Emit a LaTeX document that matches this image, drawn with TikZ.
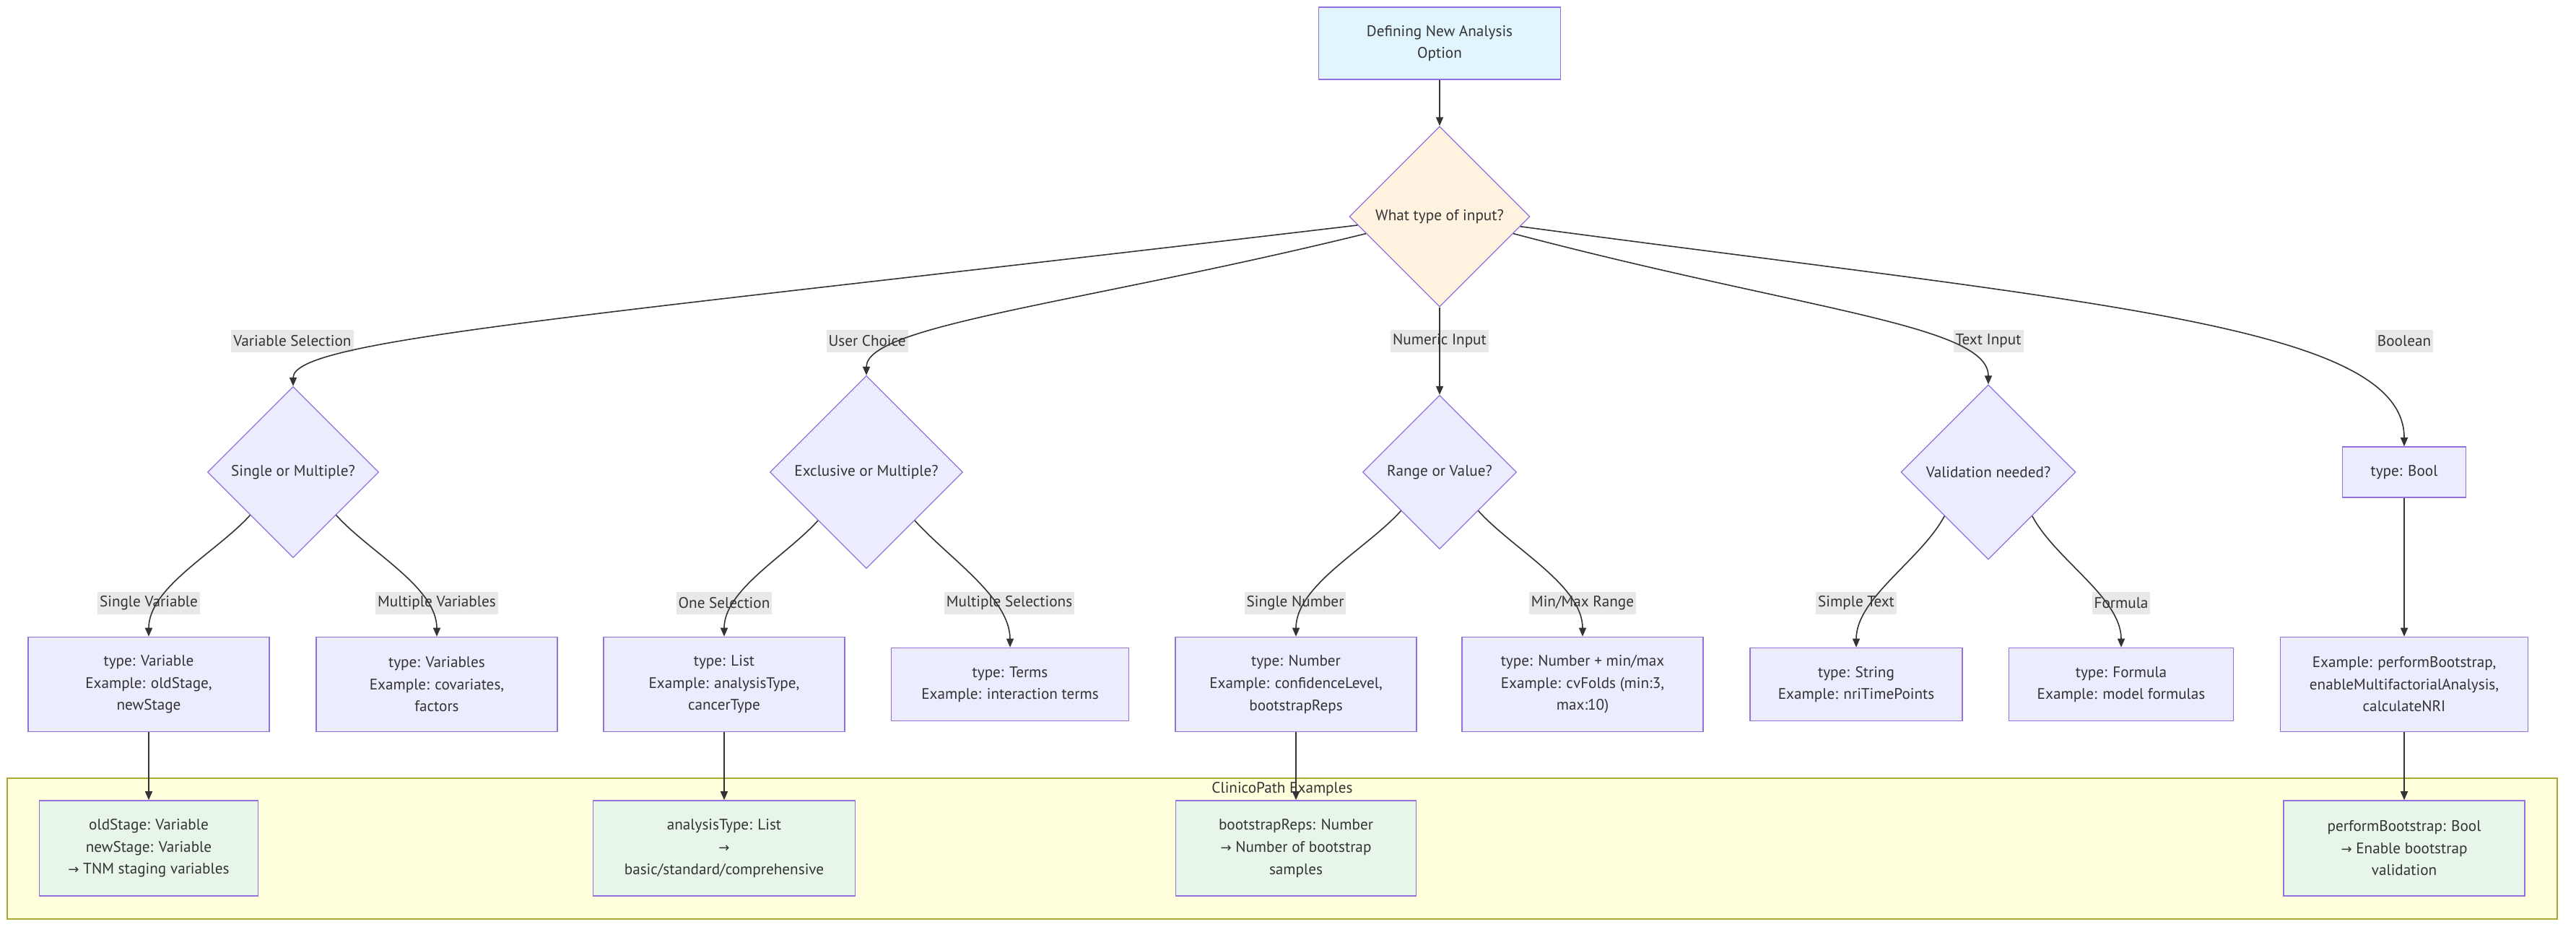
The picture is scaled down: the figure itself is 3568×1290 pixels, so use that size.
\documentclass[tikz,border=0pt]{standalone}
\usepackage{fontspec}
\setmainfont{PT Sans}
\newfontfamily\arrowfont{DejaVu Sans}
\usetikzlibrary{arrows.meta,shapes.geometric}

\definecolor{nodefill}{HTML}{ECECFF}
\definecolor{nodeline}{HTML}{9370DB}
\definecolor{startfill}{HTML}{E1F5FE}
\definecolor{askfill}{HTML}{FFF3E0}
\definecolor{examplefill}{HTML}{E8F5E9}
\definecolor{groupfill}{HTML}{FFFFDE}
\definecolor{groupline}{HTML}{AAAA33}
\definecolor{labelfill}{HTML}{E8E8E8}
\definecolor{ink}{HTML}{333333}

\newcommand{\goes}{{\arrowfont\small →}}

\begin{document}
\begin{tikzpicture}[x=0.5pt,y=0.5pt,
  font=\fontsize{10.6}{15.3}\selectfont, text=ink,
  box/.style={draw=nodeline, fill=nodefill, line width=0.8pt, align=center, inner sep=2pt, minimum width=167pt, minimum height=65.5pt},
  ask/.style={diamond, aspect=1, draw=nodeline, fill=nodefill, line width=0.6pt, align=center, inner sep=0pt},
  example/.style={box, fill=examplefill, minimum height=66pt},
  tag/.style={fill=labelfill, inner xsep=1.5pt, inner ysep=0pt, minimum height=15.5pt},
  flow/.style={draw=ink, line width=0.8pt, -{Triangle[length=6pt,width=5pt]}},
]
\useasboundingbox (0,0) rectangle (3568,-1290);

% group box
\node[draw=groupline, fill=groupfill, line width=0.8pt, minimum width=1766pt, minimum height=97.5pt, inner sep=0pt] (group) at (1776,-1175.5) {};
\node (grouptitle) at (1776,-1093) {ClinicoPath Examples};

% start and first question
\node[box, fill=startfill, minimum width=167.5pt, minimum height=50pt] (start) at (1994,-60) {Defining New Analysis\\Option};
\node[ask, fill=askfill, minimum size=125pt] (kind) at (1994,-300) {What type of input?};

% second row of questions
\node[ask, minimum size=118.5pt] (varq) at (406,-654) {Single or Multiple?};
\node[ask, minimum size=133.5pt] (choiceq) at (1200,-654) {Exclusive or Multiple?};
\node[ask, minimum size=106.5pt] (numq) at (1994,-654) {Range or Value?};
\node[ask, minimum size=121pt] (textq) at (2754,-654) {Validation needed?};
\node[box, minimum width=85.5pt, minimum height=35pt] (boolt) at (3330,-654) {type: Bool};

% edge labels
\node[tag] (tVarSel) at (405,-472) {Variable Selection};
\node[tag] (tUser) at (1201,-472) {User Choice};
\node[tag] (tNum) at (1994,-472) {Numeric Input};
\node[tag] (tText) at (2754,-472) {Text Input};
\node[tag] (tBool) at (3330,-472) {Boolean};
\node[tag] (tSingleVar) at (206,-835) {Single Variable};
\node[tag] (tMultiVar) at (605,-835) {Multiple Variables};
\node[tag] (tOneSel) at (1003,-835) {One Selection};
\node[tag] (tMultiSel) at (1398,-835) {Multiple Selections};
\node[tag] (tSingleNum) at (1794,-835) {Single Number};
\node[tag] (tMinMax) at (2192,-835) {Min/Max Range};
\node[tag] (tSimple) at (2571,-835) {Simple Text};
\node[tag] (tFormula) at (2938,-835) {Formula};

% option types
\node[box] (var) at (206,-948) {type: Variable\\Example: oldStage,\\newStage};
\node[box] (vars) at (605,-948) {type: Variables\\Example: covariates,\\factors};
\node[box] (list) at (1003,-948) {type: List\\Example: analysisType,\\cancerType};
\node[box, minimum width=164.5pt, minimum height=50.5pt] (terms) at (1399,-948) {type: Terms\\Example: interaction terms};
\node[box] (number) at (1795,-948) {type: Number\\Example: confidenceLevel,\\bootstrapReps};
\node[box] (range) at (2192,-948) {type: Number + min/max\\Example: cvFolds (min:3,\\max:10)};
\node[box, minimum width=147pt, minimum height=50.5pt] (string) at (2571,-948) {type: String\\Example: nriTimePoints};
\node[box, minimum width=155.5pt, minimum height=50.5pt] (formula) at (2938,-948) {type: Formula\\Example: model formulas};
\node[box, minimum width=171.5pt] (boolex) at (3330,-948) {Example: performBootstrap,\\enableMultifactorialAnalysis,\\calculateNRI};

% examples
\node[example, minimum width=151.5pt] (exVar) at (206,-1175) {oldStage: Variable\\newStage: Variable\\\goes{} TNM staging variables};
\node[example, minimum width=181.5pt] (exList) at (1003,-1175) {analysisType: List\\\goes\\basic/standard/comprehensive};
\node[example, minimum width=166.5pt] (exNum) at (1795,-1175) {bootstrapReps: Number\\\goes{} Number of bootstrap\\samples};
\node[example, minimum width=167pt] (exBool) at (3330,-1175) {performBootstrap: Bool\\\goes{} Enable bootstrap\\validation};

% connections
\draw[flow] (start) -- (kind);
\draw[flow] (kind.186) .. controls (800,-440) and (406,-470) .. (varq.north);
\draw[flow] (kind.193) .. controls (1500,-420) and (1200,-450) .. (choiceq.north);
\draw[flow] (kind) -- (numq);
\draw[flow] (kind.-13) .. controls (2500,-430) and (2754,-450) .. (textq.north);
\draw[flow] (kind.-7) .. controls (2900,-420) and (3330,-450) .. (boolt.north);

\draw[flow] (varq.south west) to[out=-132,in=90,looseness=0.8] (var.north);
\draw[flow] (varq.south east) to[out=-48,in=90,looseness=0.8] (vars.north);
\draw[flow] (choiceq.south west) to[out=-132,in=90,looseness=0.8] (list.north);
\draw[flow] (choiceq.south east) to[out=-48,in=90,looseness=0.8] (terms.north);
\draw[flow] (numq.south west) to[out=-132,in=90,looseness=0.8] (number.north);
\draw[flow] (numq.south east) to[out=-48,in=90,looseness=0.8] (range.north);
\draw[flow] (textq.south west) to[out=-118,in=90,looseness=0.8] (string.north);
\draw[flow] (textq.south east) to[out=-62,in=90,looseness=0.8] (formula.north);
\draw[flow] (boolt) -- (boolex);

\draw[flow] (var) -- (exVar);
\draw[flow] (list) -- (exList);
\draw[flow] (number) -- (exNum);
\draw[flow] (boolex) -- (exBool);
\end{tikzpicture}
\end{document}
